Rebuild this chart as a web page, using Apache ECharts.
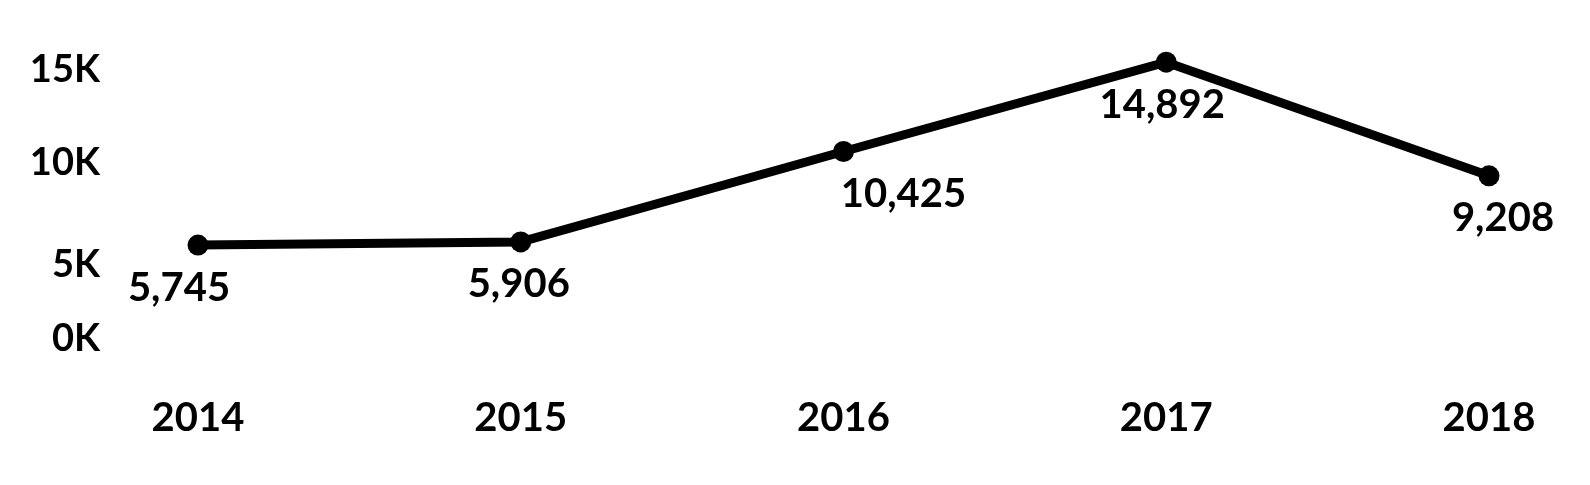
<!DOCTYPE html>
<html lang="en">
<head>
	<meta charset="UTF-8">
	<title>Yearly totals</title>
	<script src="https://cdn.jsdelivr.net/npm/echarts@6/dist/echarts.min.js"></script>
	<style>
		html, body { margin: 0; padding: 0; background: #fff; }
	</style>
</head>
<body>
    <div id="main" style="width: 1590px;height:485px;"></div>
<script type="text/javascript">
    var years = ['2014', '2015', '2016', '2017', '2018'];
    var totals = [5745, 5906, 10425, 14892, 9208];
    var yTicks = [0, 5000, 10000, 15000];

    // label nudges so the text sits like in the original
    var labelNudge = [[-19, 0], [-2, 0], [60, 0], [-4, 0], [14, 0]];
    var tickPad = { t0: [0, 0, 42, 0], t5000: [10, 0, 0, 0], t10000: [6, 0, 0, 0], t15000: [20, 0, 0, 0] };

    var font = 'Lato, "Open Sans", sans-serif';
    var myChart = echarts.init(document.getElementById('main'));

    var points = totals.map(function (v, i) {
        return { value: v, label: { offset: labelNudge[i] } };
    });

    var tickRich = {};
    yTicks.forEach(function (t) {
        tickRich['t' + t] = {
            padding: tickPad['t' + t],
            color: '#000',
            fontSize: 38,
            fontWeight: 'bold',
            fontFamily: font
        };
    });

    myChart.setOption({
        animation: false,
        grid: {
            left: 198,
            right: 101,
            top: 60,
            bottom: 125
        },
        xAxis: {
            type: 'category',
            data: years,
            boundaryGap: false,
            axisLine: { show: false },
            axisTick: { show: false },
            axisLabel: {
                margin: 38,
                color: '#000',
                fontSize: 40,
                fontWeight: 'bold',
                fontFamily: font
            }
        },
        yAxis: {
            type: 'value',
            min: yTicks[0],
            max: yTicks[yTicks.length - 1],
            interval: 5000,
            splitLine: { show: false },
            axisLine: { show: false },
            axisTick: { show: false },
            axisLabel: {
                margin: 98,
                rich: tickRich,
                formatter: function (v) { return '{t' + v + '|' + (v / 1000) + 'K}'; }
            }
        },
        series: [{
            type: 'line',
            data: points,
            symbol: 'circle',
            symbolSize: 21,
            itemStyle: { color: '#000' },
            lineStyle: { color: '#000', width: 9 },
            label: {
                show: true,
                position: 'bottom',
                distance: 12,
                color: '#000',
                fontSize: 40,
                fontWeight: 'bold',
                fontFamily: font,
                formatter: function (p) { return p.value.toLocaleString('en-US'); }
            }
        }]
    });
</script>
</body>
</html>
